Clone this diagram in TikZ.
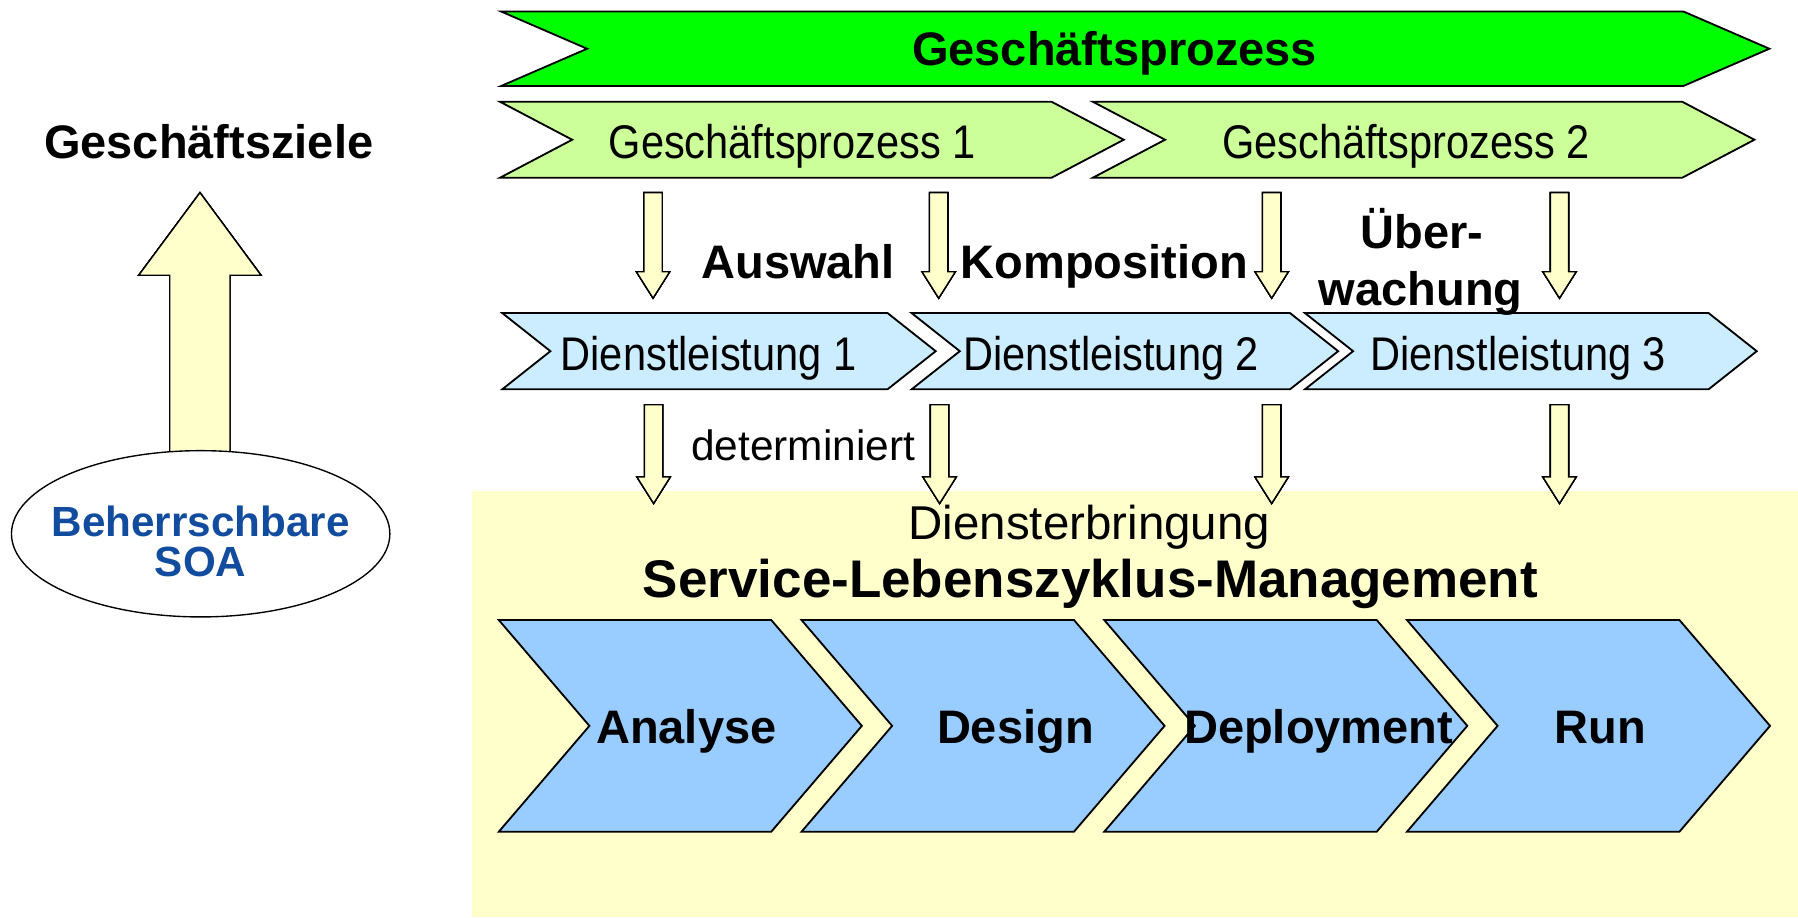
\documentclass[tikz,border=0pt]{standalone}
\usepackage{fontspec}
\setmainfont{Liberation Sans}
\newfontfamily\schmalfont[FakeStretch=0.88]{Liberation Sans}
\definecolor{prozessgruen}{HTML}{00FF00}
\definecolor{hellgruen}{HTML}{CCFF99}
\definecolor{hellblau}{HTML}{CCECFF}
\definecolor{mittelblau}{HTML}{99CCFF}
\definecolor{hellgelb}{HTML}{FFFFCC}
\definecolor{soablau}{HTML}{124C9E}
\newcommand{\chevron}[6]{\draw[kontur,fill=#6] (#1,#2) -- ++(#3,0) -- ++(#5,#4/2) -- ++(-#5,#4/2) -- ++(-#3,0) -- ++(#5,-#4/2) -- cycle;}
\newcommand{\runter}[3]{\draw[pfeilrand,fill=hellgelb] (#1-8,#2) -- (#1+8,#2) -- (#1+8,#3-23) -- (#1+14.5,#3-23) -- (#1,#3) -- (#1-14.5,#3-23) -- (#1-8,#3-23) -- cycle;}
\begin{document}
\begin{tikzpicture}[x=0.5pt,y=-0.5pt,
  kontur/.style={draw=black,line width=0.8pt},
  pfeilrand/.style={draw=black,line width=0.6pt},
  fett/.style={font=\fontsize{20.5}{24}\selectfont\bfseries},
  schmal/.style={font=\schmalfont\fontsize{20.6}{24}\selectfont},
  duenn/.style={font=\fontsize{20.7}{24}\selectfont}]
\useasboundingbox (0,0) rectangle (1568,800);
\fill[hellgelb] (412,428) rectangle (1568,800);
\chevron{437}{10}{1031}{65}{75}{prozessgruen}
\chevron{436}{88.7}{481}{66.3}{63}{hellgruen}
\chevron{953}{88.7}{514}{66.3}{63}{hellgruen}
\chevron{438}{273}{336}{66.5}{42}{hellblau}
\chevron{795}{273}{330}{66.5}{42}{hellblau}
\chevron{1138}{273}{352}{66.5}{42}{hellblau}
\foreach \i in {0,1,2,3}
  \chevron{435+264*\i}{540.7}{237.6}{184.6}{79}{mittelblau}
\foreach \xa/\xb in {569.5/570,818.6/819.4,1109/1109,1360/1360}{
  \runter{\xa}{168}{260}
  \runter{\xb}{353}{439}
}
\draw[pfeilrand,fill=hellgelb] (148,400) -- (148,240) -- (121,240) -- (174.4,168) -- (227.6,240) -- (200.6,240) -- (200.6,400);
\draw[pfeilrand,fill=white] (175,465.5) ellipse (165 and 72.5);
\node[align=center,text=soablau,font=\fontsize{18.4}{17.5}\selectfont\bfseries] (soa) at (175,472) {Beherrschbare\\SOA};
\node[fett,anchor=base] (ziele) at (182,138) {Geschäftsziele};
\node[fett,anchor=base] (gp) at (972,57.3) {Geschäftsprozess};
\node[schmal,anchor=base] (gp1) at (691,138) {Geschäftsprozess 1};
\node[schmal,anchor=base] (gp2) at (1226,138) {Geschäftsprozess 2};
\node[fett,anchor=base] (auswahl) at (696,242.7) {Auswahl};
\node[fett,anchor=base] (kompo) at (963,242.7) {Komposition};
\node[fett,anchor=base] (ueber) at (1240,216.6) {Über-};
\node[fett,anchor=base] (wachung) at (1239,266) {wachung};
\node[schmal,anchor=base] (dl1) at (618,322.7) {Dienstleistung 1};
\node[schmal,anchor=base] (dl2) at (969,322.7) {Dienstleistung 2};
\node[schmal,anchor=base] (dl3) at (1324,322.7) {Dienstleistung 3};
\node[font=\fontsize{18.5}{22}\selectfont,anchor=base] (det) at (700.5,402) {determiniert};
\node[duenn,anchor=base] (erbr) at (950,470.3) {Diensterbringung};
\node[font=\fontsize{23.1}{27}\selectfont\bfseries,anchor=base] (slm) at (951,521) {Service-Lebenszyklus-Management};
\node[fett,anchor=base] (analyse) at (598.5,648.3) {Analyse};
\node[fett,anchor=base] (design) at (885.5,648.3) {Design};
\node[fett,anchor=base] (deploy) at (1150,648.3) {Deployment};
\node[fett,anchor=base] (run) at (1395.5,648.3) {Run};
\end{tikzpicture}
\end{document}
